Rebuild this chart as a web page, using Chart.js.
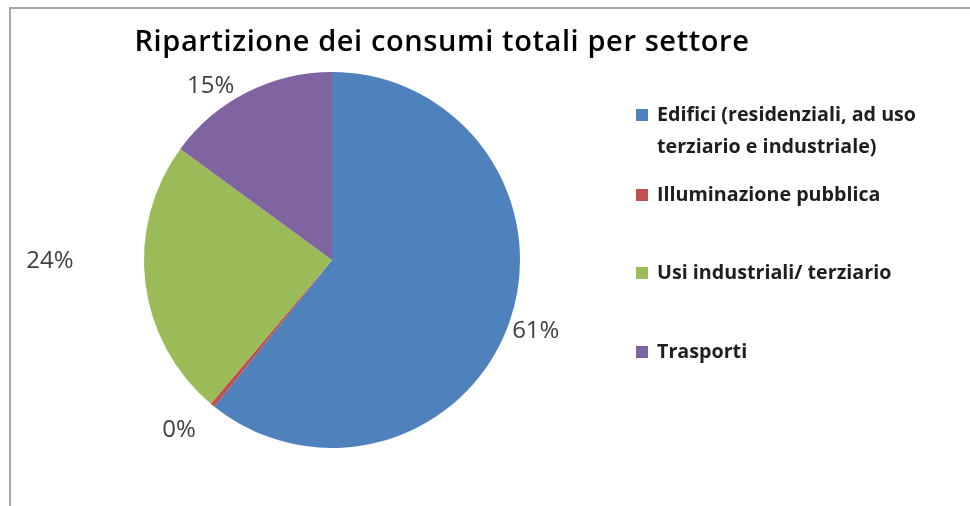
<!DOCTYPE html>
<html>
<head>
<meta charset="utf-8">
<script src="https://cdn.jsdelivr.net/npm/chart.js@4.4.1/dist/chart.umd.min.js"></script>
<style>
  html, body { margin: 0; padding: 0; background: #fff; }
  #wrap { position: relative; width: 970px; height: 506px; overflow: hidden; }
  #frame { position: absolute; left: 9px; top: 7px; width: 1000px; height: 600px;
           border-left: 2px solid #a6a6a6; border-top: 2px solid #a6a6a6; }
  #chart { position: absolute; left: 0; top: 0; }
  .legend { position: absolute; left: 636px; top: 0; font-family: "Open Sans", sans-serif;
            font-weight: bold; font-size: 19.7px; color: #1e1e1e; line-height: 32px; }
  .legend .item { position: absolute; white-space: nowrap; }
  .legend .box { position: absolute; left: 0; width: 12px; height: 12px; }
  .legend .txt { position: absolute; left: 21px; }
</style>
</head>
<body>
<div id="wrap">
  <div id="frame"></div>
  <canvas id="chart" width="970" height="506"></canvas>
  <div class="legend" id="legend"></div>
</div>
<script>
// dati
const categories = ['Edifici (residenziali, ad uso terziario e industriale)', 'Illuminazione pubblica', 'Usi industriali/ terziario', 'Trasporti'];
const legendLines = [['Edifici (residenziali, ad uso', 'terziario e industriale)'], ['Illuminazione pubblica'], ['Usi industriali/ terziario'], ['Trasporti']];
const consumi = [61, 0.4, 24, 15];
const colori = ['#4f81bd', '#c0504d', '#9bbb59', '#8064a2'];

// legenda html
const legendTops = [98, 178, 256, 335];
const legendEl = document.getElementById('legend');
legendLines.forEach(function(lines, i) {
  const item = document.createElement('div');
  item.className = 'item';
  item.style.top = legendTops[i] + 'px';
  const box = document.createElement('div');
  box.className = 'box';
  box.style.top = '11px';
  box.style.background = colori[i];
  const txt = document.createElement('div');
  txt.className = 'txt';
  txt.innerHTML = lines.join('<br>');
  item.appendChild(box);
  item.appendChild(txt);
  legendEl.appendChild(item);
});

// titolo + etichette percentuali
const labelOffsets = [28, 41, 94, 24];
const angleNudge = [0, 2.5, 6.5, -8];
const pieExtras = {
  id: 'pieExtras',
  afterDraw: function(chart) {
    const ctx = chart.ctx;
    ctx.save();
    ctx.fillStyle = '#000';
    ctx.font = '600 29px "Open Sans", sans-serif';
    ctx.letterSpacing = '0.6px';
    ctx.textAlign = 'center';
    ctx.textBaseline = 'middle';
    ctx.fillText('Ripartizione dei consumi totali per settore', 442, 43);
    ctx.letterSpacing = '0px';

    const data = chart.data.datasets[0].data;
    const total = data.reduce(function(a, b) { return a + b; }, 0);
    ctx.font = '24px "Open Sans", sans-serif';
    ctx.fillStyle = '#404040';
    chart.getDatasetMeta(0).data.forEach(function(arc, i) {
      const p = arc.getProps(['x', 'y', 'startAngle', 'endAngle', 'outerRadius'], true);
      const mid = (p.startAngle + p.endAngle) / 2 + angleNudge[i] * Math.PI / 180;
      const r = p.outerRadius + labelOffsets[i];
      const pct = Math.round(data[i] / total * 100) + '%';
      ctx.fillText(pct, p.x + Math.cos(mid) * r, p.y + Math.sin(mid) * r);
    });
    ctx.restore();
  }
};

new Chart(document.getElementById('chart'), {
  type: 'pie',
  data: {
    labels: categories,
    datasets: [{
      data: consumi,
      backgroundColor: colori,
      borderWidth: 0
    }]
  },
  options: {
    responsive: false,
    animation: false,
    layout: { padding: { left: 144, right: 450, top: 72, bottom: 58 } },
    plugins: {
      legend: { display: false },
      title: { display: false },
      tooltip: { enabled: false }
    }
  },
  plugins: [pieExtras]
});
</script>
</body>
</html>
